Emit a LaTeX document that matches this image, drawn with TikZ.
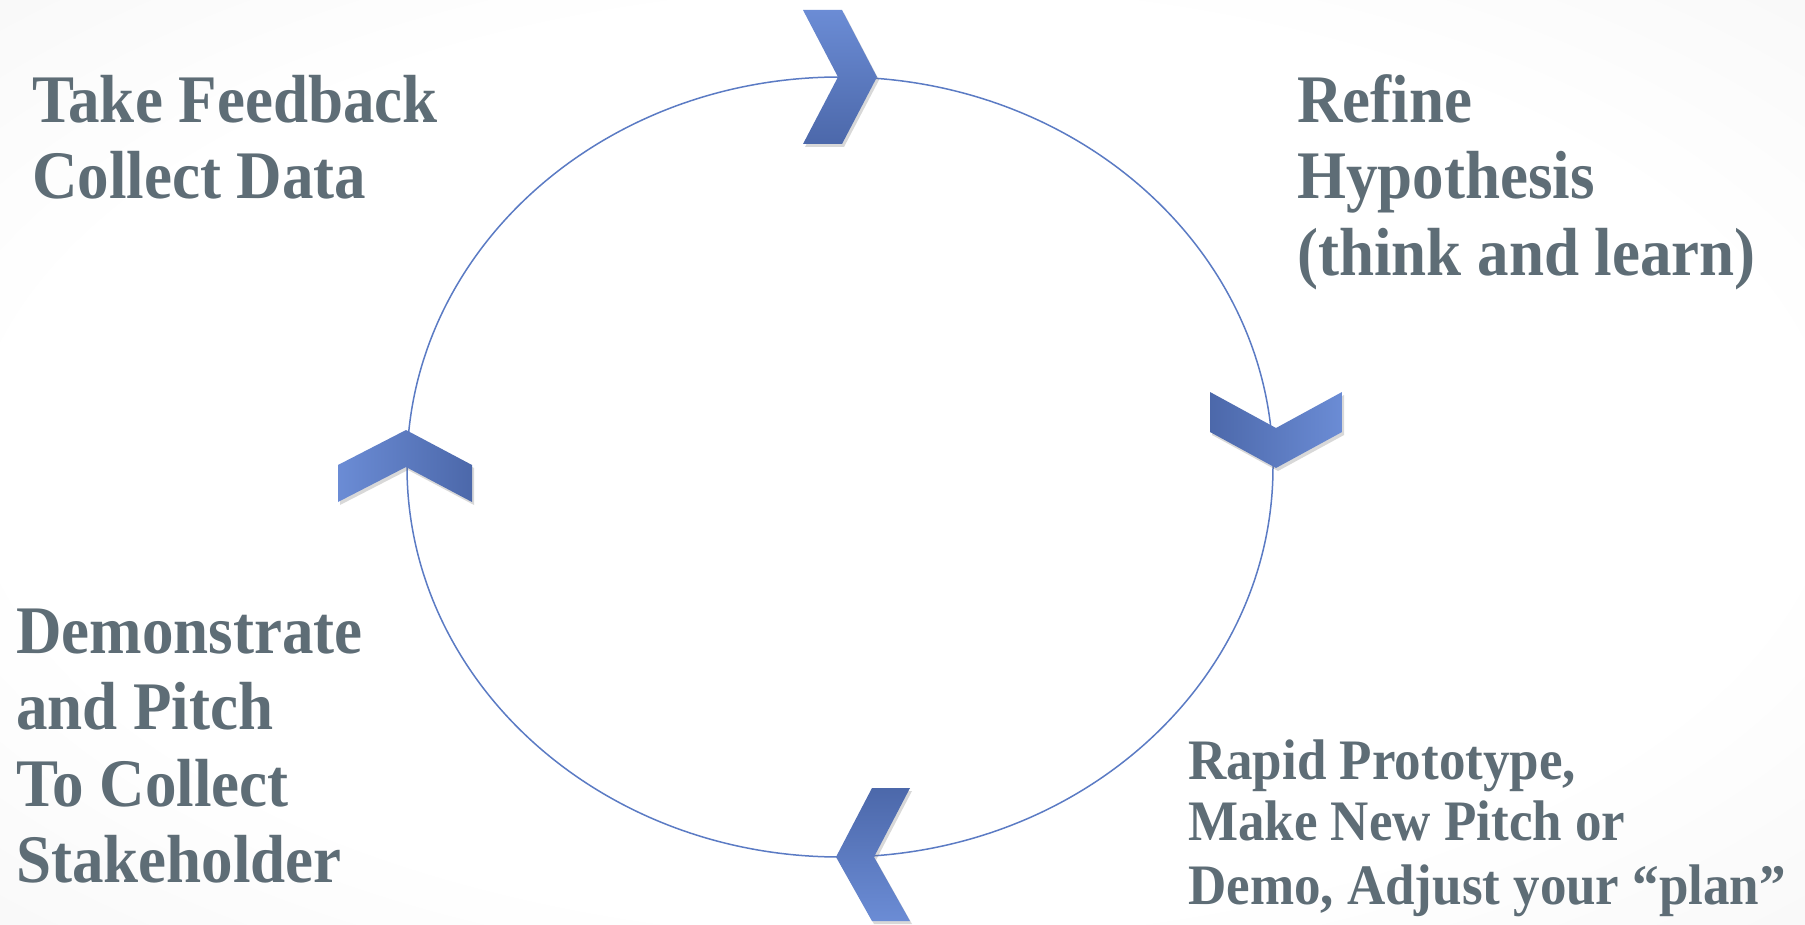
\documentclass[tikz,border=0pt]{standalone}
\usepackage{fontspec}
\setmainfont{Liberation Serif}
\usetikzlibrary{shadows}
\definecolor{chevlight}{HTML}{6B8CD5}
\definecolor{chevdark}{HTML}{4C68AA}
\definecolor{ringcol}{HTML}{5B7BC4}
\definecolor{txtcol}{HTML}{5E6D76}
\pgfdeclareradialshading{bgshade}{\pgfpoint{0bp}{0bp}}{color(0bp)=(white); color(25bp)=(white); color(72bp)=(black!11)}
\begin{document}
\begin{tikzpicture}[x=1pt,y=-1pt,
  chev/.style={draw=none, drop shadow={opacity=0.25, shadow xshift=2pt, shadow yshift=-3pt, fill=black!60}},
  bigtxt/.style={anchor=base west, inner sep=0pt, text=txtcol, font=\fontsize{63}{76}\selectfont\bfseries},
  smalltxt/.style={anchor=base west, inner sep=0pt, text=txtcol, font=\fontsize{53}{63}\selectfont\bfseries}]
\path[use as bounding box, shading=bgshade] (0,0) rectangle (1805,925);
% ring
\draw[ringcol, line width=1.5pt] (840,467) ellipse [x radius=433, y radius=390];
% chevrons
\path[chev, top color=chevlight, bottom color=chevdark]
  (803,10) -- (842,10) -- (877,77) -- (842,144) -- (803,144) -- (838,77) -- cycle;
\path[chev, left color=chevdark, right color=chevlight]
  (1210,392) -- (1276,428) -- (1342,392) -- (1342,432) -- (1276,468) -- (1210,432) -- cycle;
\path[chev, left color=chevlight, right color=chevdark]
  (338,465) -- (406,430) -- (472,465) -- (472,502) -- (406,467) -- (338,502) -- cycle;
\path[chev, top color=chevdark, bottom color=chevlight]
  (872,788) -- (910,788) -- (874,857) -- (910,921) -- (872,921) -- (836,857) -- cycle;
% texts
\node[bigtxt] (tl1) at (32,123) {\scalebox{1}[1.08]{Take Feedback}};
\node[bigtxt] (tl2) at (32,199) {\scalebox{1}[1.08]{Collect Data}};
\node[bigtxt] (tr1) at (1297,123) {\scalebox{1}[1.08]{Refine}};
\node[bigtxt] (tr2) at (1297,199) {\scalebox{1}[1.08]{Hypothesis}};
\node[bigtxt] (tr3) at (1297,276) {\scalebox{1}[1.08]{(think and learn)}};
\node[bigtxt] (bl1) at (16,653) {\scalebox{1}[1.08]{Demonstrate}};
\node[bigtxt] (bl2) at (16,729) {\scalebox{1}[1.08]{and Pitch}};
\node[bigtxt] (bl3) at (16,806) {\scalebox{1}[1.08]{To Collect}};
\node[bigtxt] (bl4) at (16,882) {\scalebox{1}[1.08]{Stakeholder}};
\node[smalltxt] (br1) at (1188,779) {\scalebox{1}[1.08]{Rapid Prototype,}};
\node[smalltxt] (br2) at (1188,840) {\scalebox{1}[1.08]{Make New Pitch or}};
\node[smalltxt] (br3) at (1188,904) {\scalebox{1}[1.08]{Demo, Adjust your ``plan''}};
\end{tikzpicture}
\end{document}
